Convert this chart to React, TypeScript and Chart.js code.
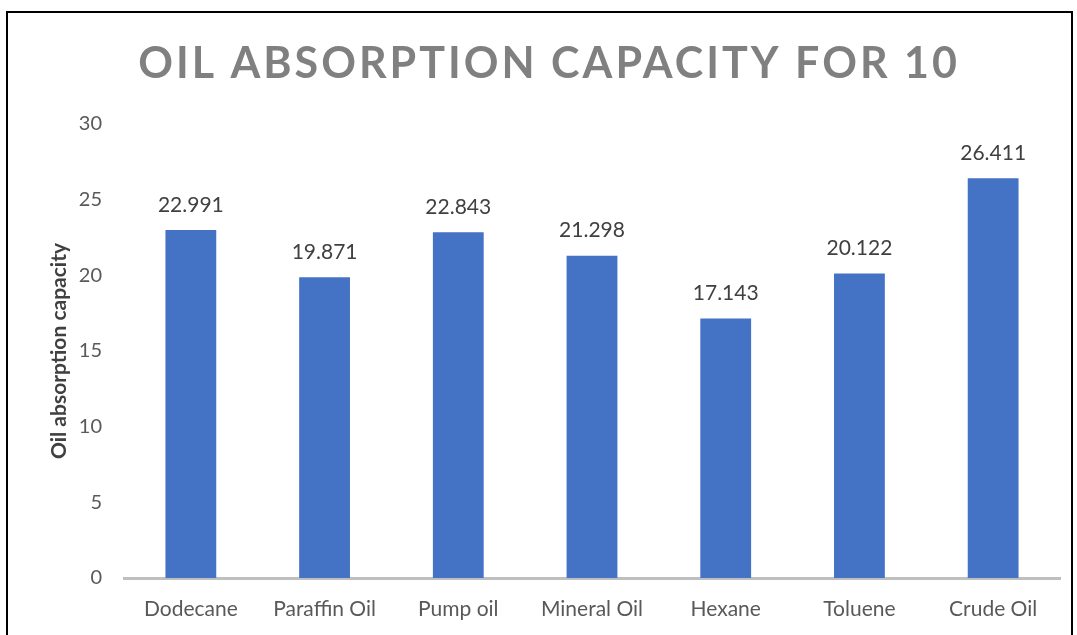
import React, { useEffect, useRef } from "react";
import { Chart, registerables } from "chart.js";

Chart.register(...registerables);

const TITLE = "OIL ABSORPTION CAPACITY FOR 10";
const Y_TITLE = "Oil absorption capacity";
const categories = ["Dodecane", "Paraffin Oil", "Pump oil", "Mineral Oil", "Hexane", "Toluene", "Crude Oil"];
const values = [22.991, 19.871, 22.843, 21.298, 17.143, 20.122, 26.411];
const labelsText = ["22.991", "19.871", "22.843", "21.298", "17.143", "20.122", "26.411"];
const yMin = 0;
const yMax = 30;
const yStep = 5;

const FONT = "Lato, 'Open Sans', sans-serif";

const titlePlugin = {
  id: "spacedTitle",
  afterDraw(chart: any) {
    const ctx = chart.ctx;
    ctx.save();
    ctx.font = `bold 43px ${FONT}`;
    ctx.fillStyle = "#808080";
    ctx.textAlign = "center";
    ctx.textBaseline = "middle";
    (ctx as any).letterSpacing = "3px";
    ctx.fillText(TITLE, 549, 64);
    ctx.restore();
  },
};

const valueLabelPlugin = {
  id: "valueLabels",
  afterDatasetsDraw(chart: any) {
    const ctx = chart.ctx;
    const meta = chart.getDatasetMeta(0);
    ctx.save();
    ctx.font = `21px ${FONT}`;
    ctx.fillStyle = "#404040";
    ctx.textAlign = "center";
    ctx.textBaseline = "middle";
    meta.data.forEach((bar: any, i: number) => {
      ctx.fillText(labelsText[i], bar.x, bar.y - 25);
    });
    ctx.restore();
  },
};

export default function App() {
  const ref = useRef<HTMLCanvasElement>(null);
  useEffect(() => {
    if (!ref.current) return;
    const chart = new Chart(ref.current, {
      type: "bar",
      data: {
        labels: categories,
        datasets: [
          {
            data: values,
            backgroundColor: "#4472C4",
            borderWidth: 0,
            barPercentage: 0.38,
            categoryPercentage: 1,
          },
        ],
      },
      options: {
        responsive: false,
        animation: false,
        devicePixelRatio: 1,
        layout: { padding: { top: 124, left: 0, right: 17, bottom: 0 } },
        plugins: {
          legend: { display: false },
          title: { display: false },
          tooltip: { enabled: false },
        },
        scales: {
          x: {
            grid: { display: false, drawTicks: false },
            border: { display: true, color: "#BFBFBF", width: 3 },
            ticks: {
              color: "#595959",
              font: { family: FONT, size: 21 },
              padding: 19,
              maxRotation: 0,
              autoSkip: false,
            },
            afterFit(scale: any) {
              scale.height = 57;
            },
          },
          y: {
            min: yMin,
            max: yMax,
            grid: { display: false, drawTicks: false },
            border: { display: false },
            ticks: {
              stepSize: yStep,
              color: "#595959",
              font: { family: FONT, size: 20 },
              padding: 22,
            },
            title: {
              display: true,
              text: Y_TITLE,
              color: "#404040",
              font: { family: FONT, size: 21, weight: "bold" },
              padding: { top: 47, bottom: 0 },
            },
            afterFit(scale: any) {
              scale.width = 124;
            },
          },
        },
      },
      plugins: [titlePlugin, valueLabelPlugin],
    });
    return () => chart.destroy();
  }, []);

  return (
    <div
      style={{
        position: "fixed",
        left: 0,
        top: 0,
        width: 1077,
        height: 635,
        overflow: "hidden",
        background: "#fff",
      }}
    >
      <div
        style={{
          position: "absolute",
          left: 6,
          top: 11,
          width: 1067,
          height: 700,
          border: "2px solid #000",
          boxSizing: "border-box",
        }}
      />
      <canvas
        ref={ref}
        width={1077}
        height={635}
        style={{ position: "absolute", left: 0, top: 0, width: 1077, height: 635 }}
      />
    </div>
  );
}
